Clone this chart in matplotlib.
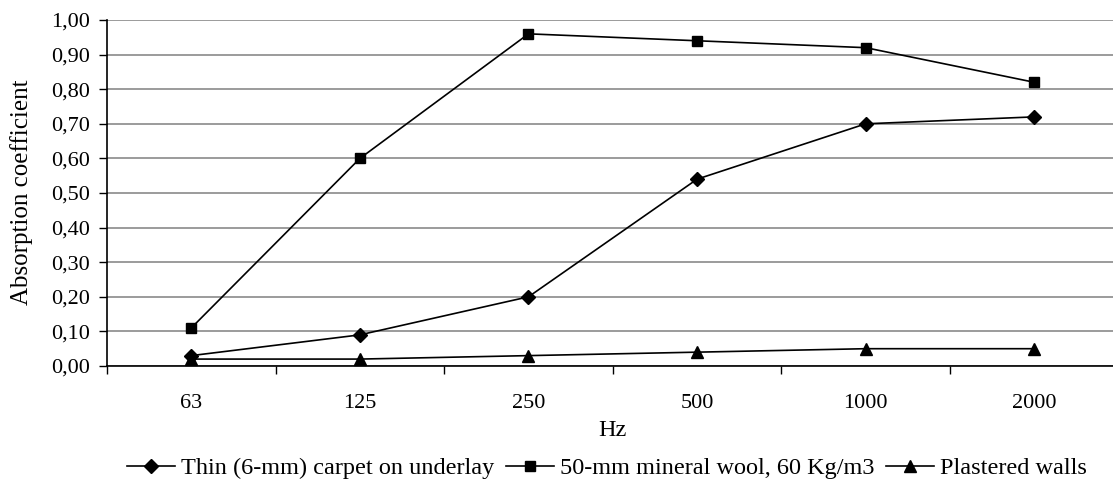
import matplotlib.pyplot as plt
from matplotlib.ticker import FuncFormatter

freqs = ["63", "125", "250", "500", "1000", "2000"]
carpet = [0.03, 0.09, 0.20, 0.54, 0.70, 0.72]
mineral_wool = [0.11, 0.60, 0.96, 0.94, 0.92, 0.82]
plaster = [0.02, 0.02, 0.03, 0.04, 0.05, 0.05]

series = [
    ("Thin (6-mm) carpet on underlay", carpet, "D", 7.5),
    ("50-mm mineral wool, 60 Kg/m3", mineral_wool, "s", 7.5),
    ("Plastered walls", plaster, "^", 9),
]

plt.rcParams["font.family"] = ["Liberation Serif", "DejaVu Serif"]
plt.rcParams["font.size"] = 16

W, H = 1113, 479
fig = plt.figure(figsize=(W / 100, H / 100), dpi=100)
# plot area in pixels: left 107, top 20, bottom 366, one category = 168.6 px
ax = fig.add_axes([107 / W, (H - 366) / H, 6 * 168.6 / W, 346 / H])

x = range(len(freqs))
for label, vals, marker, ms in series:
    ax.plot(x, vals, color="black", linewidth=1.2, marker=marker,
            markersize=ms, markerfacecolor="black", markeredgecolor="black",
            label=label, clip_on=False, zorder=3)

ax.set_xlim(-0.5, len(freqs) - 0.5)
ax.set_ylim(0, 1.0)
ax.set_yticks([i / 10 for i in range(11)])
ax.yaxis.set_major_formatter(FuncFormatter(lambda v, p: f"{v:.2f}".replace(".", ",")))
ax.yaxis.grid(True, color="#808080", linewidth=1.1)
ax.set_axisbelow(True)

# category labels centred, tick marks on the boundaries
ax.set_xticks([i - 0.5 for i in range(len(freqs) + 1)])
ax.set_xticklabels([])
ax.set_xticks(list(x), minor=True)
ax.set_xticklabels(freqs, minor=True)
ax.tick_params(axis="x", which="minor", length=0, pad=20)
ax.tick_params(axis="x", which="major", length=6, width=1, direction="out")
ax.tick_params(axis="y", length=6, width=1, direction="out", pad=6)

for side in ("top", "right"):
    ax.spines[side].set_visible(False)
ax.spines["left"].set_linewidth(1.2)
ax.spines["bottom"].set_linewidth(1.2)

ax.set_xlabel("Hz", fontsize=17.5, labelpad=5)
fig.text(22 / W, (H - 192) / H, "Absorption coefficient", fontsize=18,
         rotation=90, ha="center", va="center")

fig.legend(loc="center", bbox_to_anchor=(607 / W, 1 - 468 / H), ncol=3,
           frameon=False, fontsize=17.5, handlelength=2.0, handletextpad=0.25,
           columnspacing=0.45, borderaxespad=0, borderpad=0)

fig.savefig("out.png", dpi=100)
